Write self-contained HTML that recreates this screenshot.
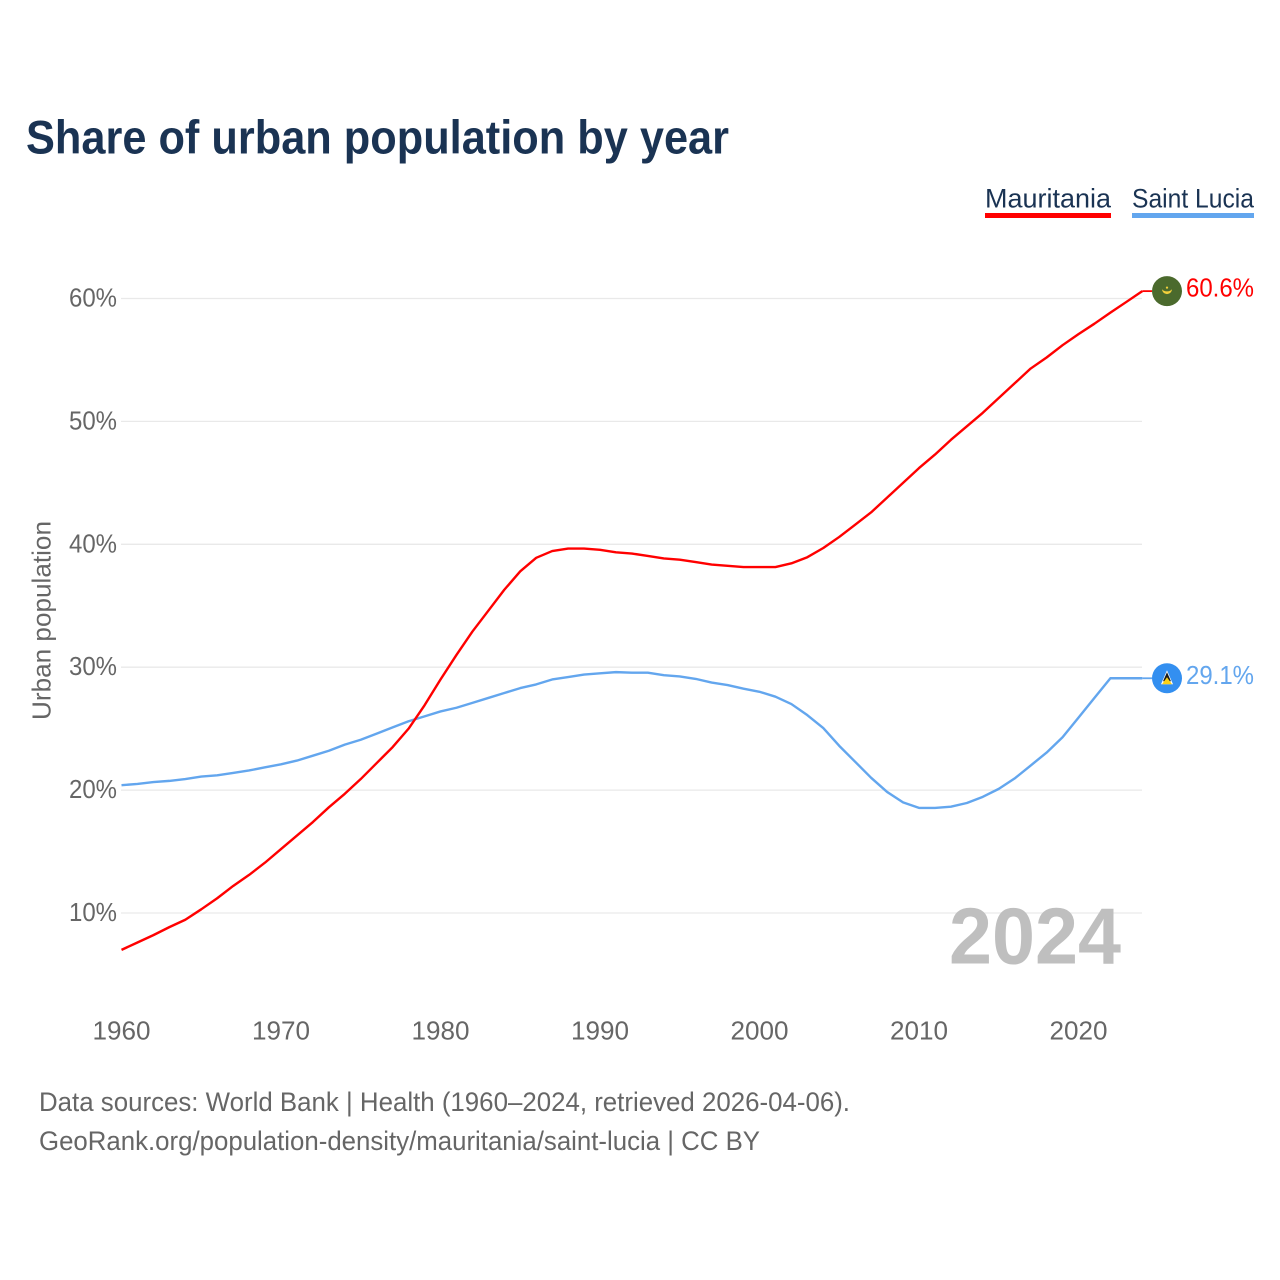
<!DOCTYPE html>
<html lang="en">
<head>
<meta charset="utf-8">
<title>Share of urban population by year</title>
<style>
html,body{margin:0;padding:0;background:#fff;width:1280px;height:1280px;overflow:hidden}
svg{display:block}
text{font-family:"Liberation Sans",sans-serif}
</style>
</head>
<body>
<svg id="chart" xmlns="http://www.w3.org/2000/svg" width="1280" height="1280" viewBox="0 0 1280 1280">
  <rect width="1280" height="1280" fill="#fff"/>
  <text x="26" y="153.5" font-size="47" font-weight="bold" fill="#1a3353" textLength="703" lengthAdjust="spacingAndGlyphs">Share of urban population by year</text>
  <g>
    <text x="985" y="207.5" font-size="26.5" fill="#1a3353" textLength="126" lengthAdjust="spacingAndGlyphs">Mauritania</text>
    <rect x="985" y="213" width="126" height="5" fill="#ff0000"/>
    <text x="1132" y="207.5" font-size="26.5" fill="#1a3353" textLength="122" lengthAdjust="spacingAndGlyphs">Saint Lucia</text>
    <rect x="1132" y="213" width="122" height="5" fill="#63a6ee"/>
  </g>
  <g id="grid"></g>
  <g id="yticks"></g>
  <g id="xticks"></g>
  <text transform="translate(50.5,620.5) rotate(-90)" text-anchor="middle" font-size="26" fill="#666" textLength="199" lengthAdjust="spacingAndGlyphs">Urban population</text>
  <text x="949" y="963.5" font-size="80" font-weight="bold" fill="#bfbfbf" textLength="172" lengthAdjust="spacingAndGlyphs">2024</text>
  <g id="series"></g>
  <g id="markers"></g>
  <g>
    <text x="39" y="1111" font-size="27" fill="#666" textLength="811" lengthAdjust="spacingAndGlyphs">Data sources: World Bank | Health (1960–2024, retrieved 2026-04-06).</text>
    <text x="39" y="1150" font-size="27" fill="#666" textLength="721" lengthAdjust="spacingAndGlyphs">GeoRank.org/population-density/mauritania/saint-lucia | CC BY</text>
  </g>
</svg>
<script>
const startYear = 1960;
const yTickValues = [10, 20, 30, 40, 50, 60];
const xTickYears = [1960, 1970, 1980, 1990, 2000, 2010, 2020];
const mauritania = [7.0,7.6,8.2,8.85,9.45,10.3,11.2,12.2,13.1,14.1,15.2,16.3,17.4,18.6,19.7,20.9,22.2,23.5,25.0,26.9,29.0,31.0,32.9,34.6,36.3,37.8,38.9,39.45,39.65,39.65,39.55,39.35,39.25,39.05,38.85,38.75,38.55,38.35,38.25,38.15,38.15,38.15,38.45,38.95,39.7,40.6,41.6,42.6,43.8,45.0,46.2,47.3,48.5,49.6,50.7,51.9,53.1,54.3,55.2,56.2,57.1,57.95,58.85,59.72,60.6];
const saintLucia = [20.4,20.5,20.65,20.75,20.9,21.1,21.2,21.4,21.6,21.85,22.1,22.4,22.8,23.2,23.7,24.1,24.6,25.1,25.6,26.0,26.4,26.7,27.1,27.5,27.9,28.3,28.6,29.0,29.2,29.4,29.5,29.6,29.55,29.55,29.35,29.25,29.05,28.75,28.55,28.25,28.0,27.6,27.0,26.1,25.05,23.6,22.3,21.0,19.85,19.0,18.55,18.55,18.65,18.95,19.45,20.1,20.95,22.0,23.05,24.3,25.9,27.5,29.1,29.1,29.1];

const NS = 'http://www.w3.org/2000/svg';
function xScale(year) { return 121.5 + (year - 1960) * 15.95; }
function yScale(v) { return 298.5 + (60 - v) * 12.29; }
function make(tag, attrs, parent, content) {
  const el = document.createElementNS(NS, tag);
  for (const k in attrs) el.setAttribute(k, attrs[k]);
  if (content !== undefined) el.textContent = content;
  parent.appendChild(el);
  return el;
}
const gridG = document.getElementById('grid');
const yG = document.getElementById('yticks');
const xG = document.getElementById('xticks');
const seriesG = document.getElementById('series');
const markerG = document.getElementById('markers');

yTickValues.forEach(function (v) {
  const line = make('line', {x1: 121, x2: 1142, y1: yScale(v), y2: yScale(v), stroke: '#e9e9e9', 'stroke-width': 1.3}, gridG);
  
  
  const label = make('text', {x: 117, y: yScale(v) + 8, 'text-anchor': 'end', 'font-size': 25.5, fill: '#666', textLength: 48, lengthAdjust: 'spacingAndGlyphs'}, yG, v + '%');
  
  
});

xTickYears.forEach(function (yr) {
  const label = make('text', {x: xScale(yr), y: 1039.5, 'text-anchor': 'middle', 'font-size': 25.5, fill: '#666', textLength: 58, lengthAdjust: 'spacingAndGlyphs'}, xG, String(yr));
  
  
});

function linePoints(values) {
  return values.map(function (v, i) {
    return xScale(startYear + i).toFixed(2) + ',' + yScale(v).toFixed(2);
  });
}

function drawSeries(values, color) {
  return make('polyline', {points: linePoints(values).join(' '), fill: 'none', stroke: color, 'stroke-width': 2.4, 'stroke-linejoin': 'round'}, seriesG);
}

function drawConnector(values, color) {
  const y = yScale(values[values.length - 1]);
  return make('line', {x1: xScale(startYear + values.length - 1), x2: 1152, y1: y, y2: y, stroke: color, 'stroke-width': 1.8}, seriesG);
}

const blueLine = drawSeries(saintLucia, '#63a6ee');


const blueConnector = drawConnector(saintLucia, '#63a6ee');


const redLine = drawSeries(mauritania, '#ff0000');


const redConnector = drawConnector(mauritania, '#ff0000');



// Mauritania end marker
const mY = yScale(mauritania[mauritania.length - 1]);
const mFlag = make('circle', {cx: 1167, cy: mY, r: 15, fill: '#4b6a2d'}, markerG);


const mCrescent = make('path', {d: 'M1162 ' + (mY - 2) + ' a5 5 0 0 0 10 0 a5.5 3.8 0 0 1 -10 0 z', fill: '#f2cf3c'}, markerG);


const mStar = make('circle', {cx: 1167, cy: mY - 3.5, r: 1.1, fill: '#f2cf3c'}, markerG);


const mValue = make('text', {x: 1186, y: mY + 5.5, 'font-size': 25.5, fill: '#ff0000', textLength: 68, lengthAdjust: 'spacingAndGlyphs'}, markerG, mauritania[mauritania.length - 1].toFixed(1) + '%');



// Saint Lucia end marker
const sY = yScale(saintLucia[saintLucia.length - 1]);
const sFlag = make('circle', {cx: 1167, cy: sY, r: 15, fill: '#338ff0'}, markerG);


const sWhite = make('path', {d: 'M1167 ' + (sY - 8) + ' l6 14 h-12 z', fill: '#fff'}, markerG);


const sBlack = make('path', {d: 'M1167 ' + (sY - 6) + ' l4 9 h-8 z', fill: '#1a1a1a'}, markerG);


const sGold = make('path', {d: 'M1167 ' + (sY - 1) + ' l5 7 h-10 z', fill: '#fcd116'}, markerG);


const sValue = make('text', {x: 1186, y: sY + 5.5, 'font-size': 25.5, fill: '#63a6ee', textLength: 68, lengthAdjust: 'spacingAndGlyphs'}, markerG, saintLucia[saintLucia.length - 1].toFixed(1) + '%');


</script>
</body>
</html>
